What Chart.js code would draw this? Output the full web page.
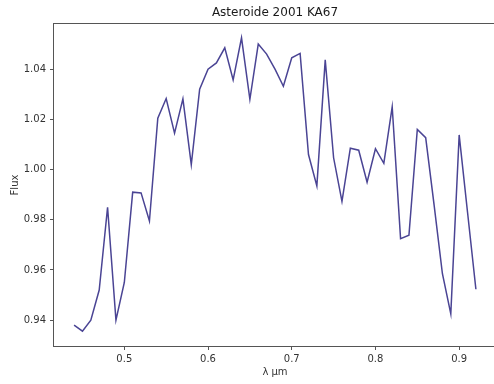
<!DOCTYPE html>
<html>
<head>
<meta charset="utf-8">
<title>Asteroide 2001 KA67</title>
<script src="https://cdn.jsdelivr.net/npm/chart.js@4/dist/chart.umd.min.js"></script>
<style>
  html, body { margin: 0; padding: 0; background: #fff; overflow: hidden; }
  canvas { display: block; }
</style>
</head>
<body>
<canvas id="spec" width="497" height="384"></canvas>
<script>
// Reflectance spectrum, wavelength in microns
const wavelength = [
  0.44, 0.45, 0.46, 0.47, 0.48, 0.49, 0.50, 0.51, 0.52, 0.53,
  0.54, 0.55, 0.56, 0.57, 0.58, 0.59, 0.60, 0.61, 0.62, 0.63,
  0.64, 0.65, 0.66, 0.67, 0.68, 0.69, 0.70, 0.71, 0.72, 0.73,
  0.74, 0.75, 0.76, 0.77, 0.78, 0.79, 0.80, 0.81, 0.82, 0.83,
  0.84, 0.85, 0.86, 0.87, 0.88, 0.89, 0.90, 0.91, 0.92
];
const flux = [
  0.938, 0.9356, 0.940, 0.952, 0.985, 0.940, 0.955, 0.991, 0.9907, 0.9795,
  1.0205, 1.0283, 1.0145, 1.0282, 1.002, 1.032, 1.040, 1.0425, 1.0485, 1.0357,
  1.0525, 1.028, 1.050, 1.046, 1.040, 1.0332, 1.0445, 1.0463, 1.006, 0.9935,
  1.0437, 1.0047, 0.9873, 1.0085, 1.0077, 0.995, 1.0083, 1.0025, 1.025, 0.9725,
  0.9738, 1.016, 1.0127, 0.986, 0.9585, 0.9425, 1.0138, 0.983, 0.9523
];
const xTicks = [0.5, 0.6, 0.7, 0.8, 0.9];
const yTicks = [0.94, 0.96, 0.98, 1.00, 1.02, 1.04];

const titleText = 'Asteroide 2001 KA67';
const FONT = "'DejaVu Sans', sans-serif";
const INK = '#333';

const points = wavelength.map((w, i) => ({ x: w, y: flux[i] }));

// Axes frame and title, drawn around the plot area
const framePlugin = {
  id: 'frame',
  afterDraw(chart) {
    const { ctx, chartArea: a } = chart;
    ctx.save();
    ctx.strokeStyle = '#555';
    ctx.lineWidth = 1;
    ctx.strokeRect(Math.round(a.left) - 0.5, Math.round(a.top) - 0.5,
                   Math.round(a.right - a.left) + 1, Math.round(a.bottom - a.top) + 1);
    ctx.fillStyle = '#1a1a1a';
    ctx.font = '12px ' + FONT;
    ctx.textAlign = 'center';
    ctx.textBaseline = 'middle';
    ctx.fillText(titleText, (a.left + a.right) / 2, 13);
    ctx.restore();
  }
};

new Chart(document.getElementById('spec'), {
  type: 'line',
  data: {
    datasets: [{
      data: points,
      borderColor: '#4a4494',
      borderWidth: 1.5,
      pointRadius: 0,
      tension: 0,
      fill: false
    }]
  },
  options: {
    responsive: false,
    animation: false,
    devicePixelRatio: 1,
    layout: { padding: { left: 0, top: 24, right: 1, bottom: 0 } },
    plugins: { legend: { display: false }, tooltip: { enabled: false } },
    scales: {
      x: {
        type: 'linear',
        min: 0.416,
        max: 0.944,
        afterFit(s) { s.height = 38; },
        afterBuildTicks(s) { s.ticks = xTicks.map(v => ({ value: v })); },
        border: { display: false },
        grid: { drawOnChartArea: false, drawTicks: true, tickLength: 4, color: '#555' },
        ticks: {
          color: INK, font: { family: FONT, size: 10 }, padding: 3,
          maxRotation: 0, callback: v => v.toFixed(1)
        },
        title: {
          display: true, text: 'λ μm', color: INK,
          font: { family: FONT, size: 10 }, padding: { top: 6, bottom: 6 }
        }
      },
      y: {
        min: 0.9297,
        max: 1.058,
        afterFit(s) { s.width = 54; },
        afterBuildTicks(s) { s.ticks = yTicks.map(v => ({ value: v })); },
        border: { display: false },
        grid: { drawOnChartArea: false, drawTicks: true, tickLength: 4, color: '#555' },
        ticks: {
          color: INK, font: { family: FONT, size: 10 }, padding: 4,
          callback: v => v.toFixed(2)
        },
        title: {
          display: true, text: 'Flux', color: INK,
          font: { family: FONT, size: 10 }, padding: { top: 9, bottom: 9 }
        }
      }
    }
  },
  plugins: [framePlugin]
});
</script>
</body>
</html>
